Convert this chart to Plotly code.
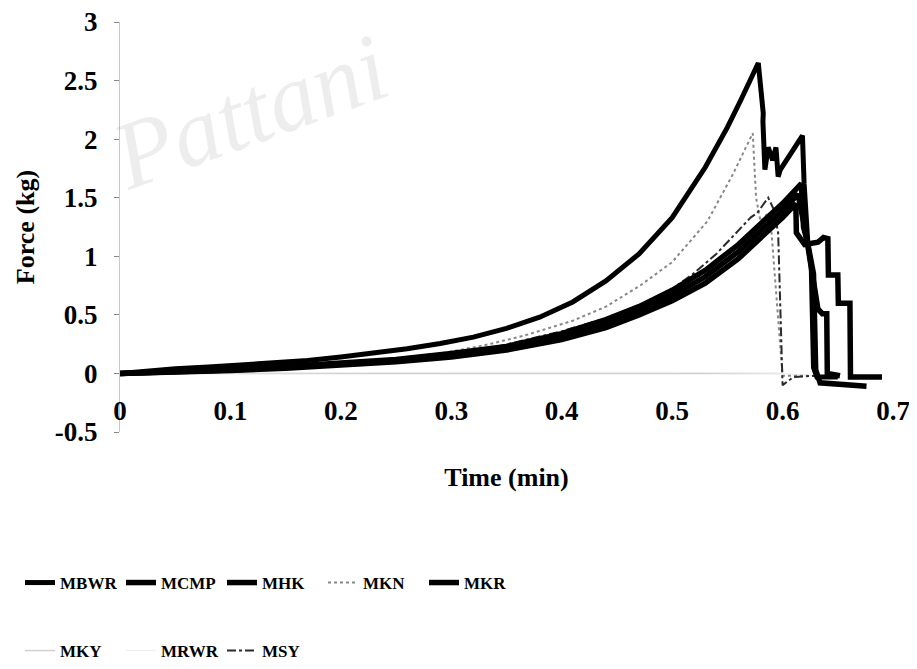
import plotly.graph_objects as go

# ---- data (Time in min, Force in kg) ----
mbwr_x = [0, 0.02, 0.05, 0.08, 0.11, 0.14, 0.17, 0.2, 0.23, 0.26, 0.29, 0.32, 0.35, 0.38, 0.41, 0.44, 0.47, 0.5, 0.53, 0.55, 0.562, 0.57, 0.578, 0.5825, 0.5822, 0.584, 0.587, 0.591, 0.594, 0.596, 0.598, 0.618, 0.6195, 0.623, 0.626, 0.628, 0.631, 0.65]
mbwr_y = [0, 0.02, 0.04, 0.055, 0.07, 0.09, 0.11, 0.14, 0.17, 0.21, 0.256, 0.31, 0.385, 0.48, 0.61, 0.79, 1.02, 1.33, 1.76, 2.1, 2.33, 2.5, 2.65, 2.22, 2.15, 1.74, 1.93, 1.82, 1.93, 1.68, 1.74, 2.03, 1.62, 1.1, 0.9, 0.05, -0.03, -0.03]

mcmp_x = [0, 0.05, 0.1, 0.15, 0.2, 0.25, 0.3, 0.35, 0.4, 0.44, 0.47, 0.5, 0.53, 0.56, 0.585, 0.6, 0.617, 0.619, 0.623, 0.628, 0.63, 0.634, 0.676]
mcmp_y = [0, 0.015, 0.035, 0.06, 0.09, 0.12, 0.17, 0.23, 0.34, 0.46, 0.57, 0.71, 0.88, 1.1, 1.32, 1.45, 1.62, 1.25, 1.1, 0.85, 0.03, -0.08, -0.11]

mhk_x = [0, 0.05, 0.1, 0.15, 0.2, 0.25, 0.3, 0.35, 0.4, 0.44, 0.47, 0.5, 0.53, 0.56, 0.585, 0.6, 0.612, 0.6125, 0.62, 0.632, 0.637, 0.641, 0.6415, 0.65, 0.6505, 0.661, 0.6615, 0.69]
mhk_y = [0, 0.01, 0.025, 0.045, 0.07, 0.1, 0.14, 0.2, 0.29, 0.39, 0.5, 0.62, 0.77, 0.98, 1.2, 1.33, 1.45, 1.2, 1.1, 1.12, 1.16, 1.15, 0.84, 0.84, 0.6, 0.6, -0.03, -0.03]

mkn_x = [0, 0.05, 0.1, 0.15, 0.2, 0.25, 0.29, 0.33, 0.365, 0.41, 0.44, 0.471, 0.5, 0.532, 0.555, 0.573, 0.576, 0.58, 0.585, 0.59, 0.594, 0.598, 0.6, 0.61, 0.625]
mkn_y = [0, 0.01, 0.03, 0.06, 0.095, 0.13, 0.17, 0.24, 0.32, 0.45, 0.57, 0.75, 0.95, 1.3, 1.7, 2.05, 1.5, 1.3, 1.35, 1.2, 0.7, 0.2, -0.02, -0.02, -0.02]

mkr_x = [0, 0.05, 0.1, 0.15, 0.2, 0.25, 0.3, 0.35, 0.4, 0.44, 0.47, 0.5, 0.53, 0.56, 0.585, 0.6, 0.614, 0.621, 0.632, 0.636, 0.64, 0.6405, 0.652]
mkr_y = [0, 0.012, 0.03, 0.052, 0.08, 0.11, 0.155, 0.215, 0.315, 0.425, 0.535, 0.665, 0.825, 1.04, 1.26, 1.39, 1.53, 1.2, 0.55, 0.51, 0.51, 0.0, -0.02]

mky_x = [0, 0.1, 0.2, 0.3, 0.4, 0.5, 0.6]
mky_y = [0, 0, 0, 0, 0, 0, 0]

mrwr_x = [0, 0.1, 0.2, 0.3, 0.4, 0.5, 0.6, 0.63]
mrwr_y = [0, 0.005, 0.01, 0.01, 0.01, 0.01, 0.0, -0.02]

msy_x = [0, 0.05, 0.1, 0.15, 0.2, 0.25, 0.28, 0.338, 0.4, 0.44, 0.477, 0.5, 0.519, 0.54, 0.555, 0.571, 0.577, 0.587, 0.592, 0.596, 0.6, 0.61, 0.63]
msy_y = [0, 0.012, 0.03, 0.05, 0.08, 0.11, 0.15, 0.22, 0.36, 0.47, 0.61, 0.72, 0.85, 1.02, 1.17, 1.33, 1.37, 1.5, 1.4, 1.2, -0.1, -0.03, -0.02]

x_ticks = [0, 0.1, 0.2, 0.3, 0.4, 0.5, 0.6, 0.7]
x_tick_text = ["0", "0.1", "0.2", "0.3", "0.4", "0.5", "0.6", "0.7"]
y_ticks = [-0.5, 0, 0.5, 1, 1.5, 2, 2.5, 3]
y_tick_text = ["-0.5", "0", "0.5", "1", "1.5", "2", "2.5", "3"]

SERIF = "Liberation Serif, Times New Roman, serif"

fig = go.Figure()

def add(name, xs, ys, color, width, dash="solid", legend="legend"):
    fig.add_trace(go.Scatter(x=xs, y=ys, name=name, mode="lines",
                             line=dict(color=color, width=width, dash=dash),
                             legend=legend, hoverinfo="skip"))

add("MKY", mky_x, mky_y, "#cfcfcf", 1.5, legend="legend2")
add("MRWR", mrwr_x, mrwr_y, "#ececec", 1, legend="legend2")
add("MKN", mkn_x, mkn_y, "#888888", 2, dash="dot")
add("MSY", msy_x, msy_y, "#2a2a2a", 2, dash="dashdot", legend="legend2")
add("MHK", mhk_x, mhk_y, "#000000", 5.5)
add("MKR", mkr_x, mkr_y, "#000000", 5.5)
add("MCMP", mcmp_x, mcmp_y, "#000000", 5.5)
add("MBWR", mbwr_x, mbwr_y, "#000000", 5)

for tr in fig.data:
    tr.legendrank = {"MBWR": 1, "MCMP": 2, "MHK": 3, "MKN": 4, "MKR": 5,
                     "MKY": 1, "MRWR": 2, "MSY": 3}[tr.name]

# page body adds an 8px offset; size the figure so it fits the 917x669 window
OFF = 8
FW, FH = 917 - OFF, 669 - OFF
PL, PR, PT, PB = 120, 893, 22, 432            # plot area in window pixels
L, R, T, B = PL - OFF, FW - (PR - OFF), PT - OFF, FH - (PB - OFF)
y0_paper = (0 - (-0.5)) / 3.5

def cx(px):
    return (px - OFF) / FW

def cy(py):
    return 1 - (py - OFF) / FH

legend_font = dict(family=SERIF, size=17, color="black", weight="bold")

fig.update_layout(
    width=FW, height=FH,
    margin=dict(l=L, r=R, t=T, b=B, autoexpand=False),
    paper_bgcolor="white", plot_bgcolor="white",
    showlegend=True,
    xaxis=dict(range=[0, 0.7], tickvals=x_ticks, ticktext=x_tick_text,
               anchor="free", position=y0_paper, side="bottom",
               showgrid=False, zeroline=False, showline=False, ticks="",
               automargin=False, ticklabelstandoff=19, ticklabeloverflow="allow",
               tickfont=dict(family=SERIF, size=27, color="black", weight="bold"),
               title=dict(text="Time (min)", standoff=42,
                          font=dict(family=SERIF, size=26, color="black", weight="bold"))),
    yaxis=dict(range=[-0.5, 3], tickvals=y_ticks, ticktext=y_tick_text,
               showgrid=False, zeroline=False, showline=True, linecolor="#c8c8c8",
               linewidth=1, ticks="outside", ticklen=5, tickcolor="#888888",
               automargin=False, ticklabelstandoff=11, ticklabeloverflow="allow",
               tickfont=dict(family=SERIF, size=27, color="black", weight="bold"),
               title=dict(text="Force (kg)", standoff=12,
                          font=dict(family=SERIF, size=26, color="black", weight="bold"))),
    legend=dict(orientation="h", xref="container", yref="container",
                x=cx(20), y=cy(583), xanchor="left", yanchor="middle",
                entrywidth=56, entrywidthmode="pixels", font=legend_font,
                bgcolor="rgba(0,0,0,0)", itemclick=False, traceorder="normal"),
    legend2=dict(orientation="h", xref="container", yref="container",
                 x=cx(20), y=cy(651), xanchor="left", yanchor="middle",
                 entrywidth=56, entrywidthmode="pixels", font=legend_font,
                 bgcolor="rgba(0,0,0,0)", itemclick=False, traceorder="normal"),
)

# faint watermark of the scanned source (semi-transparent so tick labels stay visible)
fig.add_annotation(text="Pattani", xref="paper", yref="paper",
                   x=(250 - PL) / (PR - PL), y=(PB - 112) / (PB - PT),
                   xanchor="center", yanchor="middle",
                   showarrow=False, textangle=-20,
                   font=dict(family=SERIF, size=96, style="italic",
                             color="rgba(0,0,0,0.07)"))

fig.write_html("out.html")
